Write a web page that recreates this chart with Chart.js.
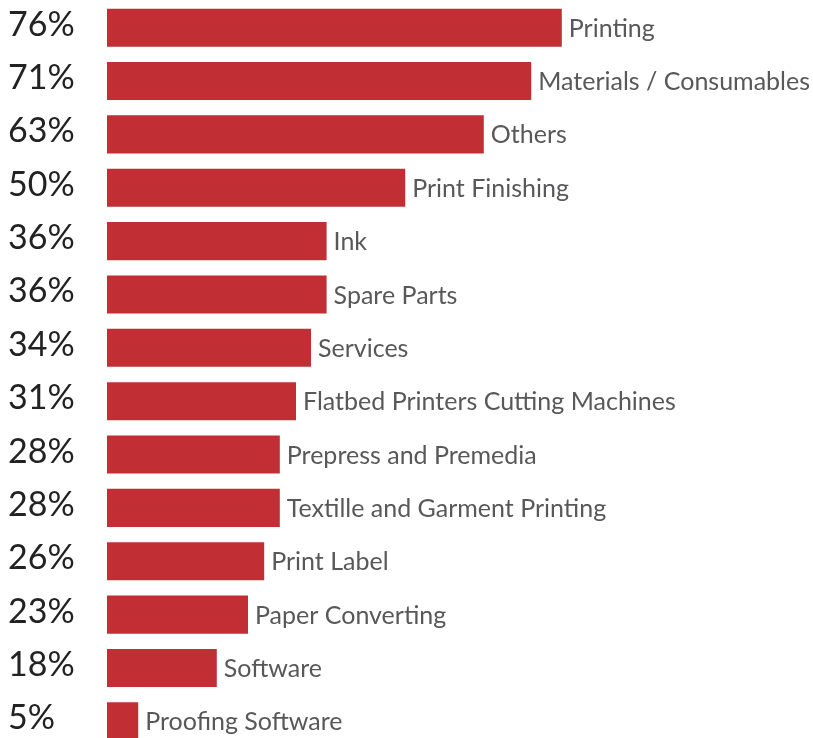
<!DOCTYPE html>
<html><head><meta charset="utf-8">
<script src="https://cdn.jsdelivr.net/npm/chart.js@4/dist/chart.umd.min.js"></script>
<style>html,body{margin:0;padding:0;background:#fff;overflow:hidden}#wrap{width:813px;height:748px;position:relative}</style>
</head><body><div id="wrap"><canvas id="c"></canvas></div>
<script>
const categories = ["Printing","Materials / Consumables","Others","Print Finishing","Ink","Spare Parts","Services","Flatbed Printers Cutting Machines","Prepress and Premedia","Textille and Garment Printing","Print Label","Paper Converting","Software","Proofing Software"];
const percentLabels = ["76%","71%","63%","50%","36%","36%","34%","31%","28%","28%","26%","23%","18%","5%"];
const values = [75.8,70.7,62.8,49.7,36.6,36.6,34.0,31.5,28.8,28.8,26.2,23.5,18.3,5.2];
const barColor = "#C12F35";

const labelsPlugin = {
  id: 'sideLabels',
  afterDatasetsDraw(chart) {
    const ctx = chart.ctx;
    const meta = chart.getDatasetMeta(0);
    ctx.save();
    meta.data.forEach((bar, i) => {
      ctx.textBaseline = 'middle';
      ctx.textAlign = 'left';
      ctx.fillStyle = '#58585a';
      ctx.font = '25px Lato';
      ctx.fillText(categories[i], bar.x + 7, bar.y + 1);
      ctx.fillStyle = '#222';
      ctx.font = '34px Lato';
      ctx.textBaseline = 'alphabetic';
      ctx.fillText(percentLabels[i], 8, bar.y + 8);
    });
    ctx.restore();
  }
};

new Chart(document.getElementById('c'), {
  type: 'bar',
  data: { labels: categories, datasets: [{ data: values, backgroundColor: barColor, barPercentage: 0.713, categoryPercentage: 1 }] },
  options: {
    indexAxis: 'y', responsive: true, maintainAspectRatio: false, animation: false,
    layout: { padding: { left: 107, right: 106, top: 1, bottom: 0 } },
    plugins: { legend: { display: false }, tooltip: { enabled: false } },
    scales: {
      x: { display: false, min: 0, max: 100 },
      y: { display: false }
    }
  },
  plugins: [labelsPlugin]
});
</script></body></html>
